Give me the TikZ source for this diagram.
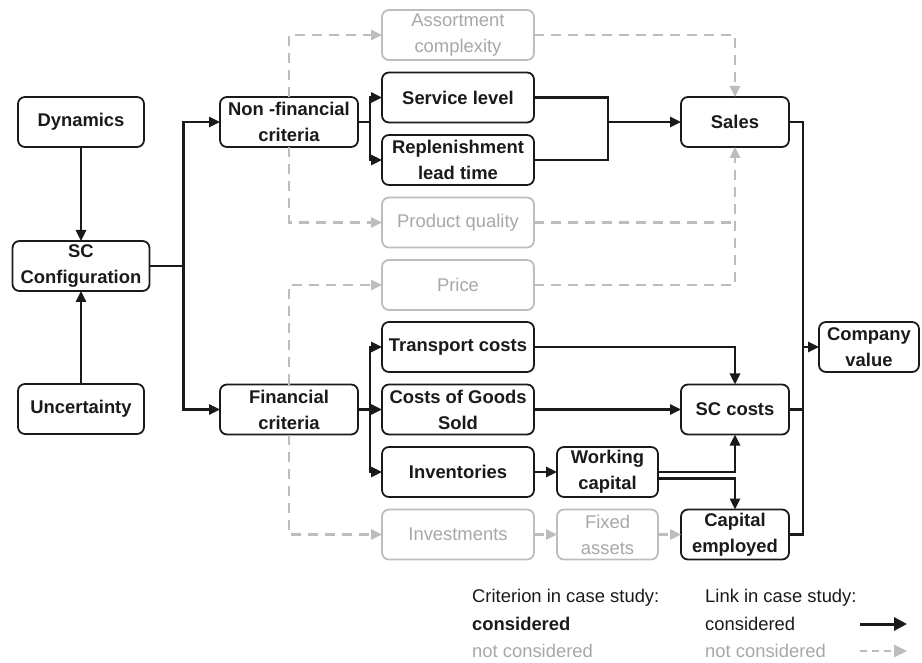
\documentclass[tikz,border=0pt]{standalone}
\usepackage{fontspec}
\setmainfont{Liberation Sans}
\usetikzlibrary{arrows.meta,positioning}
\definecolor{ink}{HTML}{1A1A1A}
\definecolor{linegrey}{HTML}{BDBDBD}
\definecolor{textgrey}{HTML}{A8A8A8}
\newcommand{\diagfont}{\fontsize{18.4}{26}\selectfont}

\begin{document}
\begin{tikzpicture}[
    x=1pt, y=-1pt,
    box/.style={rectangle, rounded corners=7pt, draw=ink, line width=1.8pt, fill=white, minimum height=50pt, inner xsep=1pt, inner ysep=0pt, outer sep=0pt, align=center, font=\diagfont\bfseries, text=ink},
    offbox/.style={box, draw=linegrey, text=textgrey, font=\diagfont},
    line/.style={line width=2.6pt, draw=ink},
    arrow/.style={-{Triangle[length=11pt,width=10pt]}, line width=2.6pt, draw=ink},
    dashline/.style={line width=2.6pt, draw=linegrey, dash pattern=on 10pt off 7pt},
    dasharrow/.style={dashline, -{Triangle[length=11pt,width=10pt]}},
    keytext/.style={anchor=west, inner sep=0pt, font=\diagfont, text=ink}
]
\useasboundingbox (0,0) rectangle (922,663);

% Drivers
\node[box, minimum width=126pt] (dyn) at (81,122) {Dynamics};
\node[box, minimum width=137pt, below=94pt of dyn] (scc) {SC\\Configuration};
\node[box, minimum width=126pt, below=93pt of scc] (unc) {Uncertainty};

% Criteria
\node[box, minimum width=138pt] (nonfin) at (289,122) {Non -financial\\criteria};
\node[box, minimum width=138pt] (fin) at (289,409.5) {Financial\\criteria};

% Single criteria
\node[offbox, minimum width=152pt] (assort) at (458,35) {Assortment\\complexity};
\node[box, minimum width=152pt] (serv) at (458,97.5) {Service level};
\node[box, minimum width=152pt] (repl) at (458,160) {Replenishment\\lead time};
\node[offbox, minimum width=152pt] (qual) at (458,222.5) {Product quality};
\node[offbox, minimum width=152pt] (price) at (458,285) {Price};
\node[box, minimum width=152pt] (transp) at (458,347) {Transport costs};
\node[box, minimum width=152pt] (cogs) at (458,409.5) {Costs of Goods\\Sold};
\node[box, minimum width=152pt] (invent) at (458,472) {Inventories};
\node[offbox, minimum width=152pt] (invest) at (458,534.5) {Investments};

% Intermediate
\node[box, minimum width=101pt, right=23pt of invent] (wc) {Working\\capital};
\node[offbox, minimum width=101pt, right=23pt of invest] (fixed) {Fixed\\assets};

% Value drivers
\node[box, minimum width=108pt] (sales) at (735,122) {Sales};
\node[box, minimum width=108pt] (sccost) at (735,409.5) {SC costs};
\node[box, minimum width=108pt] (capemp) at (735,534.5) {Capital\\employed};
\node[box, minimum width=100pt] (compval) at (869,347) {Company\\value};

% Driver links
\draw[arrow] (dyn) -- (scc);
\draw[arrow] (unc) -- (scc);
\draw[line] (scc.east) -- ++(34,0) coordinate (scsplit);
\draw[arrow] (scsplit) |- (nonfin.west);
\draw[arrow] (scsplit) |- (fin.west);

% Non-financial links
\draw[line] (nonfin.east) -- ++(12,0) coordinate (nfsplit);
\draw[arrow] (nfsplit) |- (serv.west);
\draw[arrow] (nfsplit) |- (repl.west);
\draw[dasharrow] (nonfin.north) |- (assort.west);
\draw[dasharrow] (nonfin.south) |- (qual.west);
\coordinate (svjoin) at (608,122);
\draw[line] (serv.east) -| (svjoin) |- (repl.east);
\draw[arrow] (svjoin) -- (sales.west);
\draw[dasharrow] (assort.east) -| (sales.north);
\draw[dashline] (qual.east) -- (qual.east -| sales.south);
\draw[dasharrow] (price.east) -| (sales.south);

% Financial links
\draw[line] (fin.east) -- ++(12,0) coordinate (fsplit);
\draw[arrow] (fsplit) |- (transp.west);
\draw[arrow] (fsplit) -- (cogs.west);
\draw[arrow] (fsplit) |- (invent.west);
\draw[dasharrow] (fin.north) |- (price.west);
\draw[dasharrow] (fin.south) |- (invest.west);
\draw[arrow] (transp.east) -| (sccost.north);
\draw[arrow] (cogs.east) -- (sccost.west);
\draw[arrow] (invent) -- (wc);
\draw[arrow] (wc.east) -| (sccost.south);
\draw[arrow] ([yshift=-6.5pt]wc.east) -| (capemp.north);
\draw[dasharrow] (invest) -- (fixed);
\draw[dasharrow] (fixed) -- (capemp);

% Company value
\coordinate (cvjoin) at (803,347);
\draw[line] (sales.east) -| (cvjoin);
\draw[line] (capemp.east) -| (cvjoin);
\draw[line] (sccost.east) -- (sccost.east -| cvjoin);
\draw[arrow] (cvjoin) -- (compval.west);

% Legend
\node[keytext] (crithead) at (472,598) {Criterion in case study:};
\node[keytext, font=\diagfont\bfseries] (crityes) at (472,624) {considered};
\node[keytext, text=textgrey] (critno) at (472,651) {not considered};
\node[keytext] (linkhead) at (705,598) {Link in case study:};
\node[keytext] (linkyes) at (705,624) {considered};
\node[keytext, text=textgrey] (linkno) at (705,651) {not considered};
\coordinate (keyon) at (860,624);
\coordinate (keyoff) at (860,651);
\draw[arrow, line width=3pt, -{Triangle[length=13pt,width=13pt]}] (keyon) -- ++(47,0);
\draw[dashline, dash pattern=on 7pt off 5pt, -{Triangle[length=13pt,width=12pt]}] (keyoff) -- ++(47,0);

\end{tikzpicture}
\end{document}
